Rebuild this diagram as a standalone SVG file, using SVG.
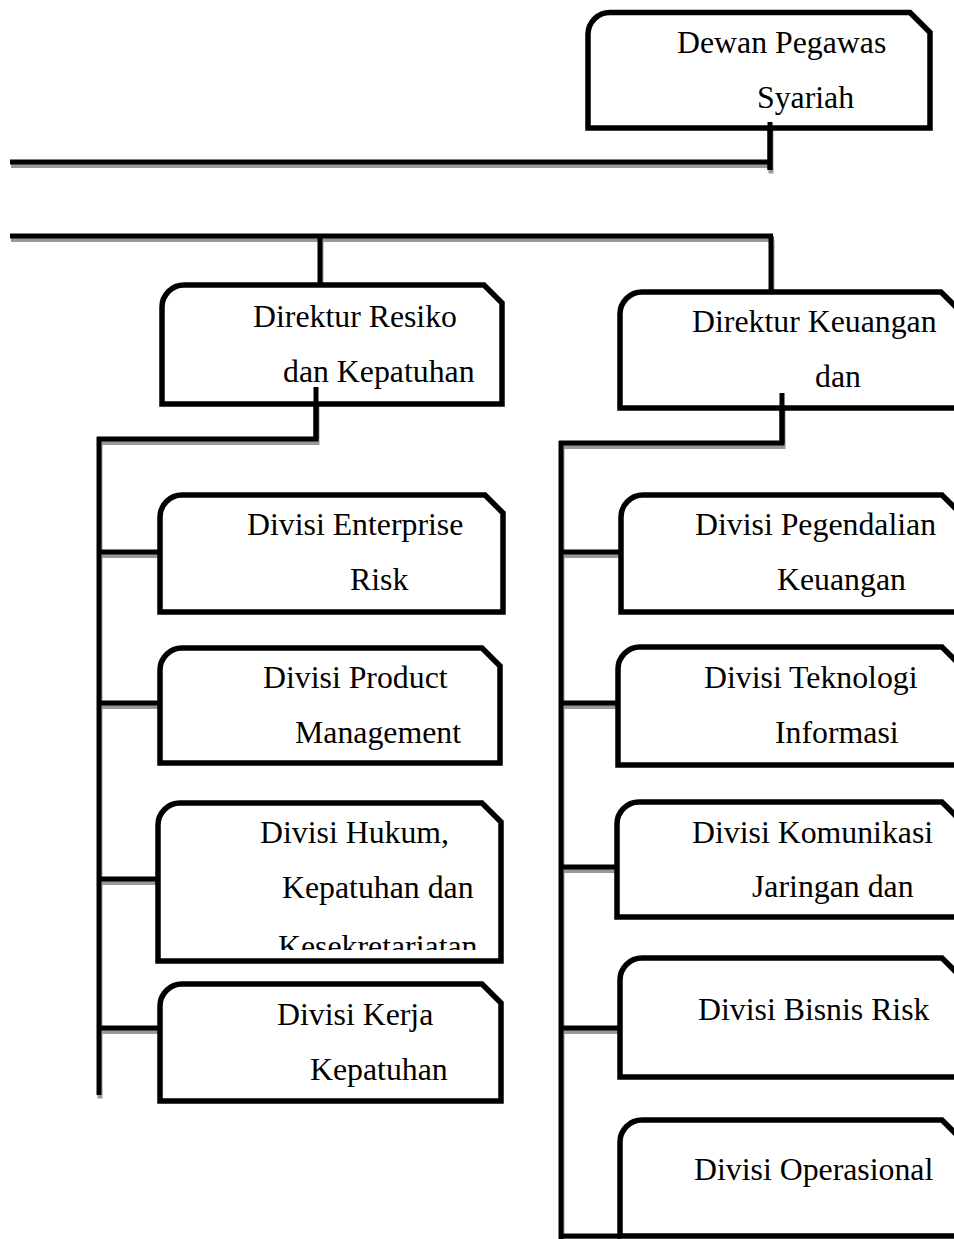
<svg xmlns="http://www.w3.org/2000/svg" xmlns:xlink="http://www.w3.org/1999/xlink" width="954" height="1239" viewBox="0 0 954 1239">
  <style>
    .box { fill: #ffffff; stroke: #000000; stroke-width: 5.5; stroke-linejoin: miter; }
    .lbl { font-family: "Liberation Serif", "Times New Roman", serif; font-size: 31.8px; fill: #000000; }
  </style>
  <defs>
    <g id="lines" fill="none" stroke-width="5" stroke-linecap="butt">
      <path d="M10 162 H770 M770 122 V170"/>
      <path d="M10 236 H773 M320 236 V285 M771 236 V292"/>
      <path d="M316 387 V439 M318.5 439 H97 M99 437 V1095"/>
      <path d="M99 552 H160 M99 703 H160 M99 879 H160 M99 1028 H160"/>
      <path d="M782 393 V443 M784.5 443 H559 M561 441 V1239"/>
      <path d="M561 552 H621 M561 703 H623 M561 867 H617 M561 1028 H620 M561 1236 H620"/>
    </g>
    <clipPath id="clipHukum">
      <rect x="158" y="800" width="345" height="150"/>
    </clipPath>
  </defs>

  <g id="connectors">
    <use xlink:href="#lines" href="#lines" stroke="#999999" transform="translate(1,3.5)"/>
    <use xlink:href="#lines" href="#lines" stroke="#000000"/>
  </g>

  <g id="node-dewan">
    <path class="box" d="M588 128 V34 A22 22 0 0 1 610 12.5 H910 L930 32.5 V128 Z"/>
    <path d="M770 122 V170" stroke="#000" stroke-width="5"/>
    <text class="lbl" x="677" y="53">Dewan Pegawas</text>
    <text class="lbl" x="757" y="108">Syariah</text>
  </g>

  <g id="node-direktur-resiko">
    <path class="box" d="M162 404 V307 A22 22 0 0 1 184 285 H484 L502 303 V404 Z"/>
    <path d="M316 387 V439" stroke="#000" stroke-width="5"/>
    <text class="lbl" x="253" y="327">Direktur Resiko</text>
    <text class="lbl" x="283" y="382">dan Kepatuhan</text>
  </g>

  <g id="node-direktur-keuangan">
    <path class="box" d="M620 408 V314 A22 22 0 0 1 642 292 H941 L963 314 V408 Z"/>
    <path d="M782 393 V443" stroke="#000" stroke-width="5"/>
    <text class="lbl" x="692" y="332">Direktur Keuangan</text>
    <text class="lbl" x="815" y="387">dan</text>
  </g>

  <g id="node-enterprise-risk">
    <path class="box" d="M160 612 V517 A22 22 0 0 1 182 495 H485 L503 513 V612 Z"/>
    <text class="lbl" x="247" y="535">Divisi Enterprise</text>
    <text class="lbl" x="350" y="590">Risk</text>
  </g>

  <g id="node-product-management">
    <path class="box" d="M160 763 V670 A22 22 0 0 1 182 648 H482 L500 666 V763 Z"/>
    <text class="lbl" x="263" y="688">Divisi Product</text>
    <text class="lbl" x="295" y="743">Management</text>
  </g>

  <g id="node-hukum">
    <path class="box" d="M158 961 V825 A22 22 0 0 1 180 803 H482 L501 822 V961 Z"/>
    <text class="lbl" x="260" y="843">Divisi Hukum,</text>
    <text class="lbl" x="282" y="898">Kepatuhan dan</text>
    <text class="lbl" x="278" y="957" clip-path="url(#clipHukum)">Kesekretariatan</text>
  </g>

  <g id="node-kerja-kepatuhan">
    <path class="box" d="M160 1101 V1006 A22 22 0 0 1 182 984 H482 L501 1003 V1101 Z"/>
    <text class="lbl" x="277" y="1025">Divisi Kerja</text>
    <text class="lbl" x="310" y="1080">Kepatuhan</text>
  </g>

  <g id="node-pegendalian">
    <path class="box" d="M621 612 V517 A22 22 0 0 1 643 495 H942 L964 517 V612 Z"/>
    <text class="lbl" x="695" y="535">Divisi Pegendalian</text>
    <text class="lbl" x="777" y="590">Keuangan</text>
  </g>

  <g id="node-teknologi">
    <path class="box" d="M618 765 V669 A22 22 0 0 1 640 647 H942 L964 669 V765 Z"/>
    <text class="lbl" x="704" y="688">Divisi Teknologi</text>
    <text class="lbl" x="775" y="743">Informasi</text>
  </g>

  <g id="node-komunikasi">
    <path class="box" d="M617 917 V824 A22 22 0 0 1 639 802 H942 L964 824 V917 Z"/>
    <text class="lbl" x="692" y="843">Divisi Komunikasi</text>
    <text class="lbl" x="752" y="897">Jaringan dan</text>
  </g>

  <g id="node-bisnis-risk">
    <path class="box" d="M620 1077 V980 A22 22 0 0 1 642 958 H942 L964 980 V1077 Z"/>
    <text class="lbl" x="698" y="1020">Divisi Bisnis Risk</text>
  </g>

  <g id="node-operasional">
    <path class="box" d="M620 1236 V1142 A22 22 0 0 1 642 1120 H942 L964 1142 V1236 Z"/>
    <text class="lbl" x="694" y="1180">Divisi Operasional</text>
  </g>
</svg>
